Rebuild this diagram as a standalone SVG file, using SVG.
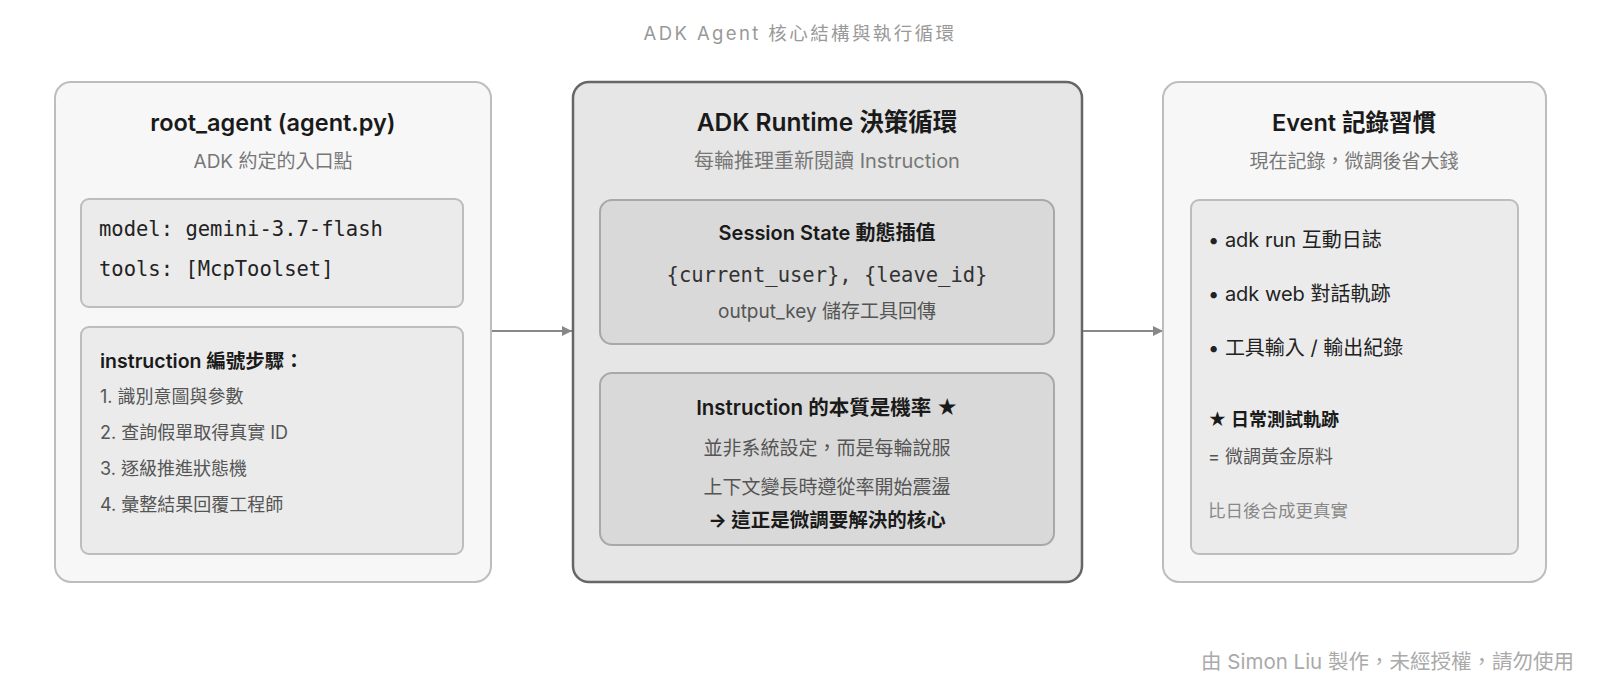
<svg xmlns="http://www.w3.org/2000/svg" width="1600" height="687" viewBox="0 0 1600 687">
<style>
text{font-family:Inter,"Noto Sans CJK TC",sans-serif;}
.title{font-size:23.5px;font-weight:600;fill:#1a1a1a;text-anchor:middle;}
.sub{font-size:19px;fill:#777;text-anchor:middle;}
.mono{font-family:"DejaVu Sans Mono","Noto Sans CJK TC",monospace;font-size:20.5px;fill:#222;}
.body{font-size:18px;fill:#555;}
.dark{font-size:20px;fill:#222;}
.bold{font-size:18px;font-weight:700;fill:#1a1a1a;}
.outer{fill:#f7f7f7;stroke:#bdbdbd;stroke-width:2;}
.inner{fill:#ebebeb;stroke:#bdbdbd;stroke-width:2;}
.mid{fill:#e6e6e6;stroke:#666;stroke-width:2.5;}
.midin{fill:#d9d9d9;stroke:#a8a8a8;stroke-width:2;}
.conn{stroke:#888;stroke-width:2;fill:none;}
</style>
<defs>
<marker id="arr" markerWidth="10" markerHeight="10" refX="10" refY="5" orient="auto" markerUnits="userSpaceOnUse"><path d="M0,0 L15,5 L0,10 Z" transform="scale(0.667,1)" fill="#888"/></marker>
</defs>
<rect width="1600" height="687" fill="#ffffff"/>
<text x="800" y="40" text-anchor="middle" style="font-size:18.5px;fill:#999;letter-spacing:2.4px">ADK Agent 核心結構與執行循環</text>

<g id="connectors">
<line class="conn" x1="491" y1="331" x2="572" y2="331" marker-end="url(#arr)"/>
<line class="conn" x1="1083" y1="331" x2="1163" y2="331" marker-end="url(#arr)"/>
</g>

<g id="root_agent">
<rect class="outer" x="55" y="82" width="436" height="500" rx="16"/>
<text class="title" x="273" y="131">root_agent (agent.py)</text>
<text class="sub" x="273" y="168">ADK 約定的入口點</text>
<rect class="inner" x="81" y="199" width="382" height="108" rx="8"/>
<text class="mono" x="99" y="236">model: gemini-3.7-flash</text>
<text class="mono" x="99" y="276">tools: [McpToolset]</text>
<rect class="inner" x="81" y="327" width="382" height="227" rx="8"/>
<text class="bold" x="100" y="368" style="font-size:19.5px;font-weight:600">instruction 編號步驟：</text>
<text class="body" x="100" y="403">1. 識別意圖與參數</text>
<text class="body" x="100" y="439">2. 查詢假單取得真實 ID</text>
<text class="body" x="100" y="475">3. 逐級推進狀態機</text>
<text class="body" x="100" y="511">4. 彙整結果回覆工程師</text>
</g>

<g id="adk_runtime">
<rect class="mid" x="573" y="82" width="509" height="500" rx="16"/>
<text class="title" x="827" y="131" style="font-size:24.5px">ADK Runtime 決策循環</text>
<text class="sub" x="827" y="168" style="font-size:20px">每輪推理重新閱讀 Instruction</text>
<rect class="midin" x="600" y="200" width="454" height="144" rx="12"/>
<text class="bold" x="827" y="240" text-anchor="middle" style="font-weight:600;font-size:20px">Session State 動態插值</text>
<text class="mono" x="827" y="282" text-anchor="middle" style="fill:#333">{current_user}, {leave_id}</text>
<text class="body" x="827" y="318" text-anchor="middle" style="fill:#555;font-size:19px">output_key 儲存工具回傳</text>
<rect class="midin" x="600" y="373" width="454" height="172" rx="12"/>
<text class="bold" x="827" y="415" text-anchor="middle" style="font-weight:600;font-size:20.5px">Instruction 的本質是機率 ★</text>
<text class="body" x="827" y="455" text-anchor="middle" style="font-size:19px">並非系統設定，而是每輪說服</text>
<text class="body" x="827" y="494" text-anchor="middle" style="font-size:19px">上下文變長時遵從率開始震盪</text>
<text class="bold" x="827" y="527" text-anchor="middle" style="font-size:19.5px">→ 這正是微調要解決的核心</text>
</g>

<g id="event_record">
<rect class="outer" x="1163" y="82" width="383" height="500" rx="16"/>
<text class="title" x="1354" y="131">Event 記錄習慣</text>
<text class="sub" x="1354" y="168">現在記錄，微調後省大錢</text>
<rect class="inner" x="1191" y="200" width="327" height="354" rx="8"/>
<text class="dark" x="1208" y="247">• adk run 互動日誌</text>
<text class="dark" x="1208" y="301">• adk web 對話軌跡</text>
<text class="dark" x="1208" y="355">• 工具輸入 / 輸出紀錄</text>
<text class="bold" x="1208" y="426">★ 日常測試軌跡</text>
<text class="body" x="1208" y="463">= 微調黃金原料</text>
<text class="body" x="1208" y="517" style="fill:#888;font-size:17.5px">比日後合成更真實</text>
</g>

<text x="1574" y="669" text-anchor="end" style="font-size:20.5px;fill:#aaa">由 Simon Liu 製作，未經授權，請勿使用</text>
</svg>
